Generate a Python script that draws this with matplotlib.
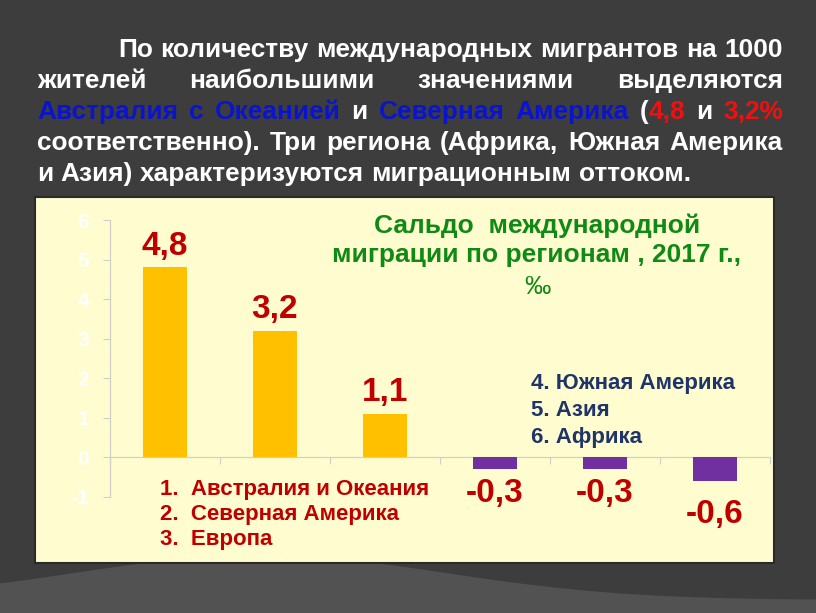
import numpy as np
import matplotlib
matplotlib.use("Agg")
import matplotlib.pyplot as plt
from matplotlib.patches import Rectangle, Polygon

# ---------------- data ----------------
regions = ["Австралия и Океания", "Северная Америка", "Европа",
           "Южная Америка", "Азия", "Африка"]
values = [4.8, 3.2, 1.1, -0.3, -0.3, -0.6]
value_labels = ["4,8", "3,2", "1,1", "-0,3", "-0,3", "-0,6"]
yticks = [-1, 0, 1, 2, 3, 4, 5, 6]
chart_title = "Сальдо  международной\nмиграции по регионам , 2017 г.,"
chart_unit = "‰"
legend_pos = ["1.  Австралия и Океания", "2.  Северная Америка", "3.  Европа"]
legend_neg = ["4. Южная Америка", "5. Азия", "6. Африка"]

W, H = 816, 613
BG = "#3d3d3d"
PANEL = "#FFFDD0"
YEL = "#FFC000"
PUR = "#7030A0"
DRED = "#C00000"
GREEN = "#0F8A14"
NAVY = "#1F3468"
WHITE = "#FFFFFF"
BLUE = "#0A14CC"
RED = "#F01010"

fig = plt.figure(figsize=(W / 100, H / 100), dpi=100)
fig.patch.set_facecolor(BG)
renderer = fig.canvas.get_renderer()


def fx(x):
    return x / W


def fy(y):
    return 1 - y / H


# background decoration (lighter lower area)
xs = np.linspace(0, W, 60)
curve = 600 - 45 * np.exp(-((xs - 260) / 260) ** 2)
poly = [(fx(x), fy(y)) for x, y in zip(xs, curve)] + [(1, 0), (0, 0)]
fig.patches.append(Polygon(poly, closed=True, transform=fig.transFigure,
                           facecolor="#525252", edgecolor="none", zorder=0))

# ---------------- paragraph (justified) ----------------
FONT = "Liberation Sans"
para = [
    (118, [("По количеству международных мигрантов на 1000", WHITE)], True),
    (37, [("жителей наибольшими значениями выделяются", WHITE)], True),
    (37, [("Австралия с Океанией", BLUE), (" и ", WHITE),
          ("Северная Америка", BLUE), (" (", WHITE), ("4,8", RED),
          (" и ", WHITE), ("3,2%", RED)], True),
    (37, [("соответственно). Три региона (Африка, Южная Америка", WHITE)], True),
    (37, [("и Азия) характеризуются миграционным оттоком.", WHITE)], False),
]
baselines = [57, 88, 119, 150, 181]
X_END = 783


def measure(s, size):
    t = fig.text(0, 0, s, fontsize=size, fontweight="bold", family=FONT)
    w = t.get_window_extent(renderer).width
    t.remove()
    return w


# choose size so that the last line has its natural width of ~651 px
size0 = 16
natural = measure("и Азия) характеризуются миграционным оттоком.", size0)
PSIZE = size0 * 651 / natural

for (x0, segs, justify), yb in zip(para, baselines):
    words = [[]]
    for text, col in segs:
        parts = text.split(" ")
        for i, p in enumerate(parts):
            if i > 0:
                words.append([])
            if p:
                words[-1].append((p, col))
    words = [w for w in words if w]
    widths = [[measure(p, PSIZE) for p, _ in w] for w in words]
    total = sum(sum(w) for w in widths)
    if justify and len(words) > 1:
        gap = (X_END - x0 - total) / (len(words) - 1)
    else:
        gap = measure("a b", PSIZE) - measure("ab", PSIZE)
    x = x0
    for w, ws in zip(words, widths):
        for (p, col), pw in zip(w, ws):
            fig.text(fx(x), fy(yb), p, fontsize=PSIZE, fontweight="bold",
                     family=FONT, color=col, va="baseline", ha="left")
            x += pw
        x += gap

# ---------------- chart panel ----------------
fig.patches.append(Rectangle((fx(35), fy(563)), fx(774) - fx(35), fy(197) - fy(563),
                             transform=fig.transFigure, facecolor=PANEL,
                             edgecolor="#2a2a2a", linewidth=1.5, zorder=1))

ax_left, ax_right, ax_top, ax_bot = 110, 770, 220, 497
ax = fig.add_axes([fx(ax_left), fy(ax_bot), fx(ax_right) - fx(ax_left),
                   fy(ax_top) - fy(ax_bot)])
ax.set_facecolor("none")
ax.set_zorder(2)

x = np.arange(len(values))
colors = [YEL if v > 0 else PUR for v in values]
bars = ax.bar(x, values, width=0.4, color=colors, zorder=3)

ax.set_xlim(-0.5, len(values) - 0.5)
ax.set_ylim(-1, 6)
ax.set_yticks(yticks)
ax.set_yticklabels([str(t) for t in yticks])
ax.set_xticks(np.arange(-0.5, len(values), 1.0))
ax.set_xticklabels([])

for s in ["top", "right"]:
    ax.spines[s].set_visible(False)
ax.spines["bottom"].set_position(("data", 0))
ax.spines["bottom"].set_color("#D0D0C8")
ax.spines["left"].set_color("#D0D0C8")
ax.spines["bottom"].set_linewidth(0.9)
ax.spines["left"].set_linewidth(0.9)
ax.tick_params(axis="y", direction="out", length=5, color="#D0D0C8",
               labelcolor="#FFFFFF", labelsize=15, pad=10)
ax.tick_params(axis="x", direction="out", length=5, color="#D0D0C8")
for lab in ax.get_yticklabels():
    lab.set_fontweight("bold")
    lab.set_family(FONT)

# data labels
neg_offsets = {-0.3: -6, -0.6: -13}
for b, v, lab in zip(bars, values, value_labels):
    if v >= 0:
        ax.annotate(lab, (b.get_x() + b.get_width() / 2, v), xytext=(0, 4),
                    textcoords="offset points", ha="center", va="bottom",
                    fontsize=24, fontweight="bold", color=DRED, family=FONT,
                    annotation_clip=False)
    else:
        ax.annotate(lab, (b.get_x() + b.get_width() / 2, v),
                    xytext=(0, neg_offsets.get(v, -6)),
                    textcoords="offset points", ha="center", va="top",
                    fontsize=24, fontweight="bold", color=DRED, family=FONT,
                    annotation_clip=False)

# chart title
fig.text(fx(537), fy(214), chart_title, ha="center", va="top", fontsize=19,
         fontweight="bold", color=GREEN, family=FONT, linespacing=1.25, zorder=5)
fig.text(fx(537), fy(275), chart_unit, ha="center", va="top", fontsize=19,
         color=GREEN, family=FONT, zorder=5)

# legends
for i, t in enumerate(legend_pos):
    fig.text(fx(160), fy(495 + 25 * i), t, ha="left", va="baseline",
             fontsize=16, fontweight="bold", color=DRED, family=FONT, zorder=5)
for i, t in enumerate(legend_neg):
    fig.text(fx(531), fy(389 + 27 * i), t, ha="left", va="baseline",
             fontsize=16, fontweight="bold", color=NAVY, family=FONT, zorder=5)

fig.savefig("out.png", dpi=100, facecolor=fig.get_facecolor())
